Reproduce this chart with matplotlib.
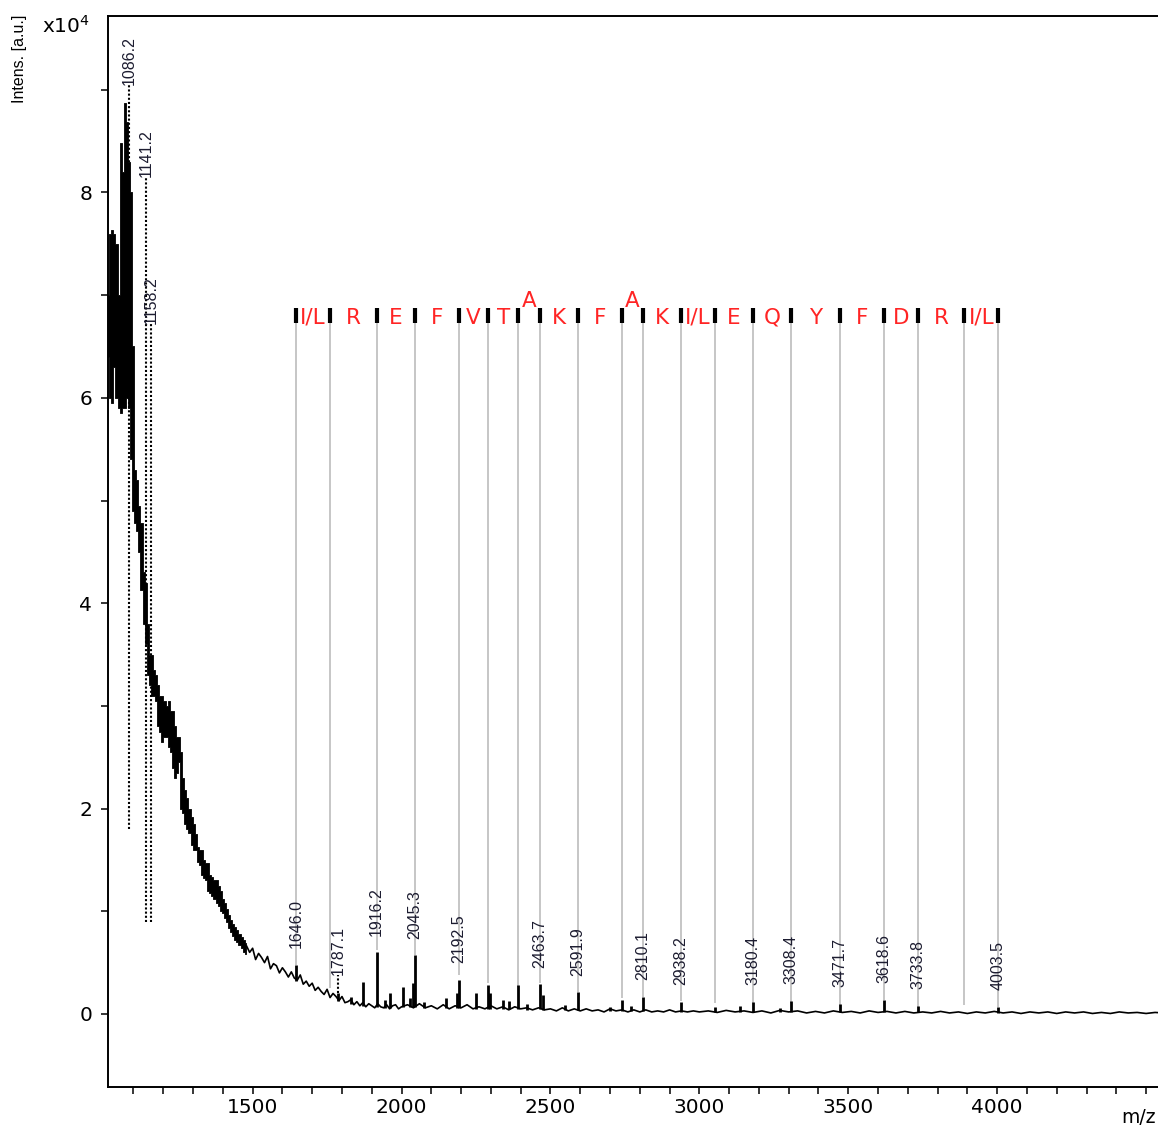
import numpy as np
import matplotlib
matplotlib.use("Agg")
import matplotlib.pyplot as plt
from matplotlib import font_manager
from matplotlib.ticker import FixedLocator

# intensities are in units of 1e4 a.u.

# dense low-mass region: min/max of the trace, read every 7 m/z
env_mz = np.arange(1015, 1478, 7)
env_lo = [6.4, 6.0, 5.95, 6.3, 6.0, 5.9, 5.85, 5.9, 5.9, 6.0, 5.9, 5.4, 4.9, 4.78,
          4.7, 4.5, 4.13, 3.8, 3.6, 3.3, 3.2, 3.1, 3.1, 3.05, 2.8, 2.75, 2.65, 2.7,
          2.7, 2.6, 2.55, 2.4, 2.3, 2.35, 2.45, 2.0, 1.96, 1.85, 1.8, 1.76, 1.65, 1.6,
          1.6, 1.48, 1.45, 1.35, 1.32, 1.3, 1.2, 1.18, 1.15, 1.12, 1.08, 1.05, 1.0,
          0.98, 0.93, 0.9, 0.84, 0.8, 0.76, 0.72, 0.7, 0.67, 0.64, 0.6, 0.58]
env_hi = [7.0, 7.6, 7.63, 7.6, 7.5, 7.0, 8.48, 8.2, 8.87, 8.69, 8.3, 8.0, 6.5, 5.3,
          5.2, 4.95, 4.78, 4.3, 4.2, 3.8, 3.5, 3.5, 3.35, 3.3, 3.2, 3.1, 3.1, 3.05,
          3.0, 3.05, 2.95, 2.95, 2.8, 2.7, 2.7, 2.55, 2.3, 2.18, 2.1, 2.0, 1.92, 1.85,
          1.75, 1.63, 1.6, 1.6, 1.5, 1.47, 1.47, 1.35, 1.33, 1.3, 1.3, 1.25, 1.2,
          1.12, 1.08, 1.02, 0.96, 0.92, 0.88, 0.85, 0.82, 0.78, 0.75, 0.72, 0.69]

# baseline trace after 1480 m/z, read at steps of 10, 20 and 30 m/z
tail_a = [0.66, 0.60, 0.64, 0.53, 0.59, 0.55, 0.50, 0.56, 0.44, 0.49, 0.47, 0.40,
          0.45, 0.41, 0.36, 0.41, 0.35, 0.33, 0.38, 0.29, 0.32, 0.27, 0.30, 0.23,
          0.26, 0.22, 0.19, 0.24, 0.16, 0.20, 0.17, 0.13, 0.17, 0.11, 0.12, 0.14,
          0.09, 0.12, 0.08, 0.11, 0.07, 0.10, 0.08, 0.06, 0.10, 0.07, 0.06, 0.09,
          0.05, 0.08, 0.09, 0.05, 0.07]
tail_b = [0.09, 0.06, 0.10, 0.06, 0.08, 0.05, 0.09, 0.05, 0.08, 0.06, 0.09, 0.05,
          0.07, 0.05, 0.08, 0.05, 0.07, 0.04, 0.07, 0.05, 0.06, 0.04, 0.06, 0.04,
          0.05, 0.03, 0.06, 0.03, 0.05, 0.03, 0.05, 0.03, 0.04, 0.02, 0.05, 0.03,
          0.04, 0.02, 0.04, 0.02, 0.04, 0.02, 0.03, 0.02, 0.04, 0.02, 0.03, 0.02,
          0.03, 0.02]
tail_c = [0.03, 0.015, 0.035, 0.02, 0.03, 0.015, 0.03, 0.01, 0.035, 0.02, 0.03, 0.01,
          0.025, 0.01, 0.03, 0.015, 0.025, 0.01, 0.03, 0.015, 0.025, 0.01, 0.025, 0.01,
          0.02, 0.01, 0.025, 0.01, 0.02, 0.005, 0.02, 0.01, 0.025, 0.01, 0.02, 0.005,
          0.02, 0.01, 0.02, 0.005, 0.02, 0.01, 0.02, 0.005, 0.015, 0.005, 0.02, 0.01,
          0.015, 0.005, 0.015, 0.01]

# peaks sticking out of the baseline
peak_mz = [1646.0, 1787.1, 1831, 1871, 1916.2, 1945, 1961, 2005, 2028, 2038, 2045.3,
           2075, 2149, 2187, 2192.5, 2250, 2291.4, 2298, 2340, 2362, 2392.5, 2422,
           2463.7, 2475, 2549, 2591.9, 2700, 2738.9, 2771, 2810.1, 2938.2, 3053,
           3137, 3180.4, 3271, 3308.4, 3471.7, 3618.6, 3733.8, 4003.5]
peak_foot = [0.32, 0.13, 0.10, 0.08, 0.07, 0.06, 0.06, 0.07, 0.07, 0.07, 0.07,
             0.06, 0.06, 0.06, 0.06, 0.05, 0.05, 0.05, 0.05, 0.05, 0.05, 0.04,
             0.05, 0.04, 0.04, 0.04, 0.03, 0.03, 0.03, 0.03, 0.02, 0.02,
             0.02, 0.02, 0.02, 0.02, 0.02, 0.02, 0.02, 0.01]
peak_top = [0.48, 0.20, 0.17, 0.31, 0.60, 0.14, 0.20, 0.26, 0.16, 0.30, 0.57,
            0.12, 0.16, 0.20, 0.33, 0.20, 0.28, 0.20, 0.14, 0.13, 0.28, 0.10,
            0.29, 0.18, 0.09, 0.21, 0.07, 0.14, 0.08, 0.17, 0.12, 0.07,
            0.08, 0.12, 0.06, 0.13, 0.10, 0.14, 0.08, 0.07]

# labelled peaks
label_mz = [1646.0, 1916.2, 2045.3, 2192.5, 2463.7, 2591.9, 2810.1, 2938.2,
            3180.4, 3308.4, 3471.7, 3618.6, 3733.8, 4003.5]
# labels moved away from their peak: m/z, label foot, end of dotted connector
callout_mz = [1086.2, 1141.2, 1158.2, 1787.1]
callout_label = [9.05, 8.15, 6.72, 0.38]
callout_end = [1.80, 0.90, 0.90, 0.20]

# sequence ladder
ladder_mz = [1646.0, 1759.1, 1916.2, 2045.3, 2192.5, 2291.4, 2392.5, 2463.7,
             2591.9, 2738.9, 2810.1, 2938.2, 3051.3, 3180.4, 3308.4, 3471.7,
             3618.6, 3733.8, 3889.8, 4003.5]
ladder_res = ['I/L', 'R', 'E', 'F', 'V', 'T', 'A', 'K', 'F', 'A', 'K', 'I/L',
              'E', 'Q', 'Y', 'F', 'D', 'R', 'I/L']
ladder_end = [0.48, 0.25, 0.62, 0.57, 0.38, 0.30, 0.26, 0.30, 0.21, 0.16, 0.17,
              0.13, 0.11, 0.11, 0.11, 0.09, 0.14, 0.07, 0.09, 0.07]

names = {f.name for f in font_manager.fontManager.ttflist}
if 'Liberation Sans Narrow' in names:
    lab_font = dict(family='Liberation Sans Narrow', size=13.5)
else:
    lab_font = dict(family='Liberation Sans', size=11.5)

W, H = 1158, 1128
fig = plt.figure(figsize=(W / 100, H / 100), dpi=100)
ax = fig.add_axes([108 / W, 1 - 1087 / H, 1 - 108 / W, (1087 - 16) / H])
ax.set_xlim(1014.4, 4540)
ax.set_ylim(-0.711, 9.718)

# ladder lines behind everything
ax.vlines(ladder_mz, ladder_end, 6.73, color='#c6c6c6', lw=1.4, zorder=1)
ax.vlines(ladder_mz, 6.73, 6.87, color='k', lw=3.0, zorder=3)
for i, res in enumerate(ladder_res):
    x = (ladder_mz[i] + ladder_mz[i + 1]) / 2
    narrow_gap = ladder_mz[i + 1] - ladder_mz[i] < 80
    ax.text(x, 6.88 if narrow_gap else 6.72, res, color='#ff2424', fontsize=15.5,
            ha='center', va='baseline', zorder=4)

# spectrum
ax.fill_between(env_mz, env_lo, env_hi, step='mid', color='k', lw=0.6, zorder=2)
tail_mz = np.concatenate([np.arange(1480, 2001, 10), np.arange(2020, 3001, 20),
                          np.arange(3030, 4561, 30)])
tail_int = np.concatenate([tail_a, tail_b, tail_c])
ax.plot(tail_mz, tail_int, color='k', lw=1.2, zorder=2)
ax.vlines(peak_mz, peak_foot, peak_top, color='k', lw=2.0, zorder=2)

# peak labels
tops = dict(zip(peak_mz, peak_top))
for m in label_mz:
    ax.annotate(f'{m:.1f}', (m, tops[m]), xytext=(0, 12), textcoords='offset points',
                rotation=90, ha='center', va='bottom', color='#1c1c30', zorder=5,
                **lab_font)
for m, ly, ey in zip(callout_mz, callout_label, callout_end):
    ax.vlines(m, ey, ly, color='k', lw=1.5, linestyles=(0, (1, 1)), zorder=3)
    ax.text(m, ly, f'{m:.1f}', rotation=90, ha='center', va='bottom',
            color='#1c1c30', zorder=5, **lab_font)

# axes styling
ax.set_xticks([1500, 2000, 2500, 3000, 3500, 4000])
ax.xaxis.set_minor_locator(FixedLocator(list(range(1100, 4600, 100))))
ax.set_yticks([0, 2, 4, 6, 8])
ax.set_yticklabels(['0', '2', '4', '6', '8'])
ax.yaxis.set_minor_locator(FixedLocator([1, 3, 5, 7, 9]))
ax.tick_params(which='both', direction='out', length=5, width=1.1, colors='k',
               labelsize=14.5)
ax.tick_params(axis='x', pad=3)
ax.tick_params(axis='y', pad=6.5)
ax.spines['right'].set_visible(False)
for s in ('left', 'bottom', 'top'):
    ax.spines[s].set_linewidth(1.4)

fig.text(20 / W, 1 - 15 / H, 'Intens. [a.u.]', rotation=90, ha='center', va='top',
         fontfamily=lab_font['family'], fontsize=lab_font['size'])
fig.text(42 / W, 1 - 26 / H, 'x10$^4$', ha='left', va='center', fontsize=14.5)
fig.text(1156 / W, 1 - 1127 / H, 'm/z', ha='right', va='bottom', fontsize=13.5)

fig.savefig('out.png', dpi=100)
